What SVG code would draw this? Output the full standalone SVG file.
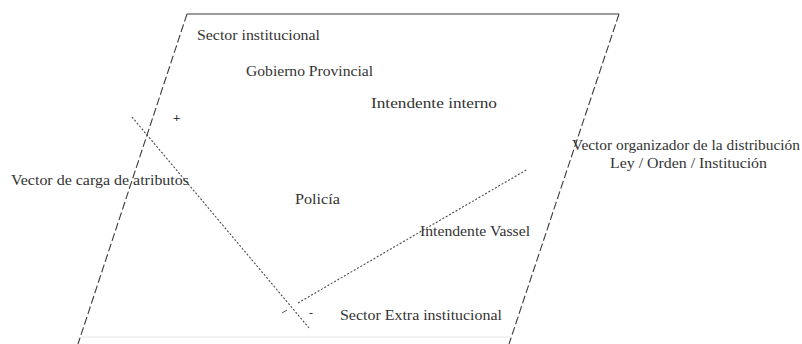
<svg xmlns="http://www.w3.org/2000/svg" width="802" height="344" viewBox="0 0 802 344">
<style>
text{font-family:'Liberation Serif','DejaVu Serif',serif;font-size:14.5px;fill:#333}
.edge{fill:none;stroke:#3a3a3a;stroke-width:1.1}
.dash{stroke-dasharray:8 3}
.dot{fill:none;stroke:#4a4a4a;stroke-width:1.1;stroke-dasharray:2 1.8}
</style>
<rect width="802" height="344" fill="#fff"/>
<g id="connectors">
<line class="edge" x1="187" y1="14" x2="619" y2="14" stroke="#777"/>
<line class="edge dash" x1="187" y1="14" x2="78" y2="344"/>
<line class="edge dash" x1="619" y1="14" x2="509" y2="344"/>
<line x1="80" y1="337" x2="511" y2="337" stroke="#e6e6e6" stroke-width="1"/>
<line class="dot" x1="132" y1="117" x2="309" y2="328"/>
<line class="dot" x1="298" y1="303" x2="528" y2="169"/>
<line x1="282" y1="313" x2="287" y2="310" stroke="#555" stroke-width="1"/>
</g>
<g id="sector-institucional"><text x="197" y="40" textLength="123" lengthAdjust="spacingAndGlyphs">Sector institucional</text></g>
<g id="gobierno-provincial"><text x="246" y="76" textLength="127" lengthAdjust="spacingAndGlyphs">Gobierno Provincial</text></g>
<g id="intendente-interno"><text x="371" y="108" textLength="126" lengthAdjust="spacingAndGlyphs">Intendente interno</text></g>
<g id="vector-organizador"><text x="572" y="150" textLength="228" lengthAdjust="spacingAndGlyphs">Vector organizador de la distribución</text>
<text x="610" y="168" textLength="157" lengthAdjust="spacingAndGlyphs">Ley / Orden / Institución</text></g>
<g id="vector-carga"><text x="11" y="185" textLength="178" lengthAdjust="spacingAndGlyphs">Vector de carga de atributos</text></g>
<g id="policia"><text x="295" y="204" textLength="45" lengthAdjust="spacingAndGlyphs">Policía</text></g>
<g id="intendente-vassel"><text x="420" y="236" textLength="110" lengthAdjust="spacingAndGlyphs">Intendente Vassel</text></g>
<g id="sector-extra"><text x="340" y="320" textLength="162" lengthAdjust="spacingAndGlyphs">Sector Extra institucional</text></g>
<g id="plus"><text x="173" y="122" style="font-size:13px;font-weight:bold">+</text></g>
<g id="minus"><text x="309" y="317" style="font-size:12px">-</text></g>
</svg>
